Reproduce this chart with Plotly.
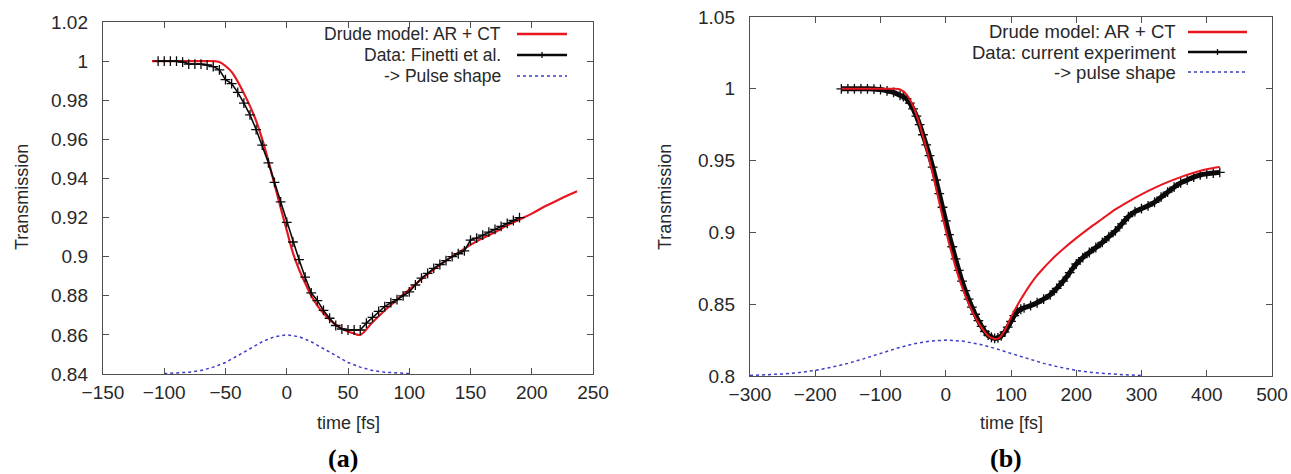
import plotly.graph_objects as go

# ---------------- Panel (a) ----------------
a_model_t = [-110, -100, -90, -80, -70, -60, -55, -50, -45, -40, -35, -30, -25, -20, -15, -10, -5,
             0, 5, 10, 15, 20, 25, 30, 35, 40, 45, 50, 55, 60, 70, 80, 90, 100, 110, 120, 130,
             140, 150, 160, 170, 180, 190, 200, 210, 220, 230, 237]
a_model_T = [1.0, 1.0, 1.0, 1.0, 1.0, 1.0, 0.9995, 0.9975, 0.9945, 0.9895, 0.9835, 0.9770, 0.9695,
             0.9600, 0.9490, 0.9370, 0.9250, 0.9135, 0.9020, 0.8935, 0.8865, 0.8800, 0.8750,
             0.8710, 0.8678, 0.8652, 0.8632, 0.8617, 0.8607, 0.8600, 0.8665, 0.8725, 0.8780,
             0.8832, 0.8885, 0.8935, 0.8980, 0.9020, 0.9060, 0.9095, 0.9125, 0.9160, 0.9190,
             0.9220, 0.9255, 0.9285, 0.9315, 0.9335]

a_data_t = [-105, -100, -95, -90, -85, -80, -75, -70, -65, -60, -55, -50, -45, -40, -35, -30, -25,
            -20, -15, -10, -5, 0, 5, 10, 15, 20, 25, 30, 35, 40, 45, 50, 55, 60, 65, 70, 75, 80,
            85, 90, 95, 100, 105, 110, 115, 120, 125, 130, 135, 140, 145, 150, 155, 160, 165,
            170, 175, 180, 185, 190]
a_data_T = [1.0, 1.0, 1.0, 1.0, 0.9995, 0.9985, 0.9985, 0.9985, 0.9980, 0.9972, 0.9955, 0.9905,
            0.9885, 0.9840, 0.9785, 0.9725, 0.9650, 0.9570, 0.9480, 0.9380, 0.9280, 0.9175,
            0.9075, 0.8985, 0.8895, 0.8815, 0.8775, 0.8725, 0.8685, 0.8648, 0.8630, 0.8625,
            0.8625, 0.8625, 0.8660, 0.8690, 0.8720, 0.8745, 0.8765, 0.8780, 0.8800, 0.8820,
            0.8855, 0.8890, 0.8915, 0.8940, 0.8960, 0.8980, 0.9000, 0.9015, 0.9030, 0.9085,
            0.9095, 0.9110, 0.9125, 0.9140, 0.9155, 0.9170, 0.9185, 0.9200]

a_pulse_t = [-100, -90, -80, -70, -60, -50, -40, -30, -20, -10, 0, 10, 20, 30, 40, 50, 60, 70, 80, 90, 100]
a_pulse_T = [0.8402, 0.8404, 0.8409, 0.8418, 0.8435, 0.8459, 0.8492, 0.8529, 0.8565, 0.8591, 0.8600,
             0.8591, 0.8565, 0.8529, 0.8492, 0.8459, 0.8435, 0.8418, 0.8409, 0.8404, 0.8402]

a_xticks = [-150, -100, -50, 0, 50, 100, 150, 200, 250]
a_yticks = [0.84, 0.86, 0.88, 0.90, 0.92, 0.94, 0.96, 0.98, 1.00, 1.02]
a_ytext = ["0.84", "0.86", "0.88", "0.9", "0.92", "0.94", "0.96", "0.98", "1", "1.02"]
a_legend = ["Drude model: AR + CT", "Data: Finetti et al.", "-> Pulse shape"]

# ---------------- Panel (b) ----------------
b_model_t = [-160, -140, -120, -100, -80, -70, -60, -50, -45, -40, -35, -30, -25, -20, -15, -10, -5,
             0, 5, 10, 15, 20, 25, 30, 35, 40, 45, 50, 55, 60, 65, 70, 75, 80, 85, 90, 100, 110,
             120, 130, 140, 150, 160, 170, 180, 200, 220, 240, 260, 280, 300, 320, 340, 360, 380,
             400, 420]
b_model_T = [1.0, 1.0, 1.0, 1.0, 1.0, 0.9995, 0.9960, 0.9880, 0.9820, 0.9750, 0.9670, 0.9590,
             0.9500, 0.9410, 0.9310, 0.9210, 0.9110, 0.9015, 0.8925, 0.8840, 0.8760, 0.8685,
             0.8620, 0.8560, 0.8505, 0.8455, 0.8410, 0.8370, 0.8335, 0.8305, 0.8280, 0.8265,
             0.8258, 0.8260, 0.8280, 0.8315, 0.8410, 0.8495, 0.8570, 0.8640, 0.8700, 0.8752,
             0.8800, 0.8845, 0.8885, 0.8960, 0.9030, 0.9095, 0.9160, 0.9215, 0.9265, 0.9310,
             0.9350, 0.9385, 0.9415, 0.9440, 0.9455]

b_data_t = [-160, -150, -140, -130, -120, -110, -100, -90, -80, -70, -65, -60, -55, -50, -45, -40,
            -35, -30, -25, -20, -15, -10, -5, 0, 5, 10, 15, 20, 25, 30, 35, 40, 45, 50, 55, 60,
            65, 70, 75, 80, 85, 90, 95, 100, 105, 110, 115, 120, 130, 140, 150, 160, 170, 180,
            190, 200, 210, 220, 230, 240, 250, 260, 270, 280, 290, 300, 310, 320, 330, 340, 350,
            360, 370, 380, 390, 400, 410, 420]
b_data_T = [1.0, 1.0, 1.0, 1.0, 1.0, 0.9998, 0.9995, 0.9985, 0.9975, 0.9955, 0.9945, 0.9930,
            0.9900, 0.9860, 0.9810, 0.9750, 0.9680, 0.9610, 0.9535, 0.9455, 0.9365, 0.9270,
            0.9175, 0.9080, 0.8985, 0.8900, 0.8815, 0.8735, 0.8660, 0.8595, 0.8535, 0.8480,
            0.8430, 0.8385, 0.8345, 0.8310, 0.8285, 0.8270, 0.8262, 0.8265, 0.8280, 0.8305,
            0.8340, 0.8380, 0.8420, 0.8450, 0.8465, 0.8475, 0.8490, 0.8510, 0.8535, 0.8565,
            0.8610, 0.8660, 0.8720, 0.8780, 0.8825, 0.8860, 0.8895, 0.8930, 0.8970, 0.9010,
            0.9060, 0.9110, 0.9145, 0.9165, 0.9185, 0.9210, 0.9245, 0.9280, 0.9315, 0.9345,
            0.9365, 0.9385, 0.9400, 0.9408, 0.9413, 0.9418]

b_pulse_t = [-300, -275, -250, -225, -200, -175, -150, -125, -100, -75, -50, -25, 0,
             25, 50, 75, 100, 125, 150, 175, 200, 225, 250, 275, 300]
b_pulse_T = [0.8004, 0.8008, 0.8014, 0.8024, 0.8039, 0.8061, 0.8088, 0.8121, 0.8157, 0.8193,
             0.8223, 0.8243, 0.8250, 0.8243, 0.8223, 0.8193, 0.8157, 0.8121, 0.8088, 0.8061,
             0.8039, 0.8024, 0.8014, 0.8008, 0.8004]

b_xticks = [-300, -200, -100, 0, 100, 200, 300, 400, 500]
b_yticks = [0.80, 0.85, 0.90, 0.95, 1.00, 1.05]
b_ytext = ["0.8", "0.85", "0.9", "0.95", "1", "1.05"]
b_legend = ["Drude model: AR + CT", "Data: current experiment", "-> pulse shape"]

# ---------------- styling ----------------
W, H = 1291, 474
RED = "rgb(232,22,30)"
BLACK = "rgb(10,10,10)"
BLUE = "rgb(60,60,200)"
AXC = "rgb(80,80,80)"
TXT = "rgb(40,40,40)"
FONT = "Liberation Sans, Arial, sans-serif"

fig = go.Figure()

fig.add_trace(go.Scatter(x=a_pulse_t, y=a_pulse_T, mode="lines", line=dict(color=BLUE, width=1.5, dash="dot"),
                         xaxis="x", yaxis="y", showlegend=False))
fig.add_trace(go.Scatter(x=a_model_t, y=a_model_T, mode="lines", line=dict(color=RED, width=2.2, shape="spline"),
                         xaxis="x", yaxis="y", showlegend=False))
fig.add_trace(go.Scatter(x=a_data_t, y=a_data_T, mode="lines+markers", line=dict(color=BLACK, width=1.6),
                         marker=dict(symbol="cross-thin", size=7, line=dict(color=BLACK, width=1.3)),
                         xaxis="x", yaxis="y", showlegend=False))

fig.add_trace(go.Scatter(x=b_pulse_t, y=b_pulse_T, mode="lines", line=dict(color=BLUE, width=1.5, dash="dot"),
                         xaxis="x2", yaxis="y2", showlegend=False))
fig.add_trace(go.Scatter(x=b_data_t, y=b_data_T, mode="lines+markers", line=dict(color=BLACK, width=5, shape="spline"),
                         marker=dict(symbol="cross-thin", size=7, line=dict(color=BLACK, width=1.3)),
                         xaxis="x2", yaxis="y2", showlegend=False))
fig.add_trace(go.Scatter(x=b_model_t, y=b_model_T, mode="lines", line=dict(color=RED, width=2, shape="spline"),
                         xaxis="x2", yaxis="y2", showlegend=False))


def px(x):
    return x / W


def py(y):
    return 1 - y / H


axis_common = dict(showgrid=False, zeroline=False, showline=True, linecolor=AXC, linewidth=1.2,
                   mirror="ticks", ticks="inside", ticklen=6, tickcolor=AXC, tickwidth=1,
                   automargin=False,
                   tickfont=dict(family=FONT, size=19, color=TXT))

fig.update_layout(
    template="none",
    width=W, height=H, autosize=False,
    margin=dict(l=0, r=0, t=0, b=0, pad=0),
    paper_bgcolor="white", plot_bgcolor="white",
    showlegend=False,
    xaxis=dict(domain=[px(103), px(593)], range=[-150, 250], tickvals=a_xticks, anchor="y",
               ticklabelstandoff=1, **axis_common),
    yaxis=dict(domain=[py(374), py(22)], range=[0.84, 1.02], tickvals=a_yticks, ticktext=a_ytext,
               anchor="x", ticklabelstandoff=10, **axis_common),
    xaxis2=dict(domain=[px(750), px(1272)], range=[-300, 500], tickvals=b_xticks, anchor="y2",
                ticklabelstandoff=1, **axis_common),
    yaxis2=dict(domain=[py(376), py(17)], range=[0.80, 1.05], tickvals=b_yticks, ticktext=b_ytext,
                anchor="x2", ticklabelstandoff=10, **axis_common),
)

ann = []
shapes = []


def text_at(x, y, text, size, family=FONT, color=TXT, angle=0, xanchor="center"):
    ann.append(dict(x=px(x), y=py(y), xref="paper", yref="paper", text=text, textangle=angle,
                    xanchor=xanchor, yanchor="middle", showarrow=False, borderpad=0,
                    font=dict(family=family, size=size, color=color)))


for cx, lab in [(343, "(a)"), (1006, "(b)")]:
    text_at(cx, 458, "<b>" + lab + "</b>", 26, family="Liberation Serif, Times New Roman, serif", color="black")
for cx in [348, 1011]:
    text_at(cx, 423, "time [fs]", 18)
for cx in [22, 665]:
    text_at(cx, 197, "Transmission", 18, angle=-90)


def add_legend(labels, text_right, x0, x1, rows, fsize):
    colors = [RED, BLACK, BLUE]
    for i, lab in enumerate(labels):
        yy = rows[i]
        text_at(text_right, yy, lab, fsize, xanchor="right")
        dash = "dot" if i == 2 else "solid"
        width = 2.5 if i < 2 else 1.5
        shapes.append(dict(type="line", xref="paper", yref="paper", x0=px(x0), x1=px(x1),
                           y0=py(yy), y1=py(yy), line=dict(color=colors[i], width=width, dash=dash)))
        if i == 1:
            xm = (x0 + x1) / 2
            shapes.append(dict(type="line", xref="paper", yref="paper", x0=px(xm), x1=px(xm),
                               y0=py(yy - 3), y1=py(yy + 3), line=dict(color=BLACK, width=1.3)))


add_legend(a_legend, 502, 517, 567, [34, 55, 76], 17.5)
add_legend(b_legend, 1177, 1188, 1247, [32, 52, 72], 18.5)

fig.update_layout(annotations=ann, shapes=shapes)
fig.write_html("out.html", config={"displayModeBar": False, "staticPlot": True},
               post_script="document.body.style.margin='0';document.body.style.overflow='hidden';")
